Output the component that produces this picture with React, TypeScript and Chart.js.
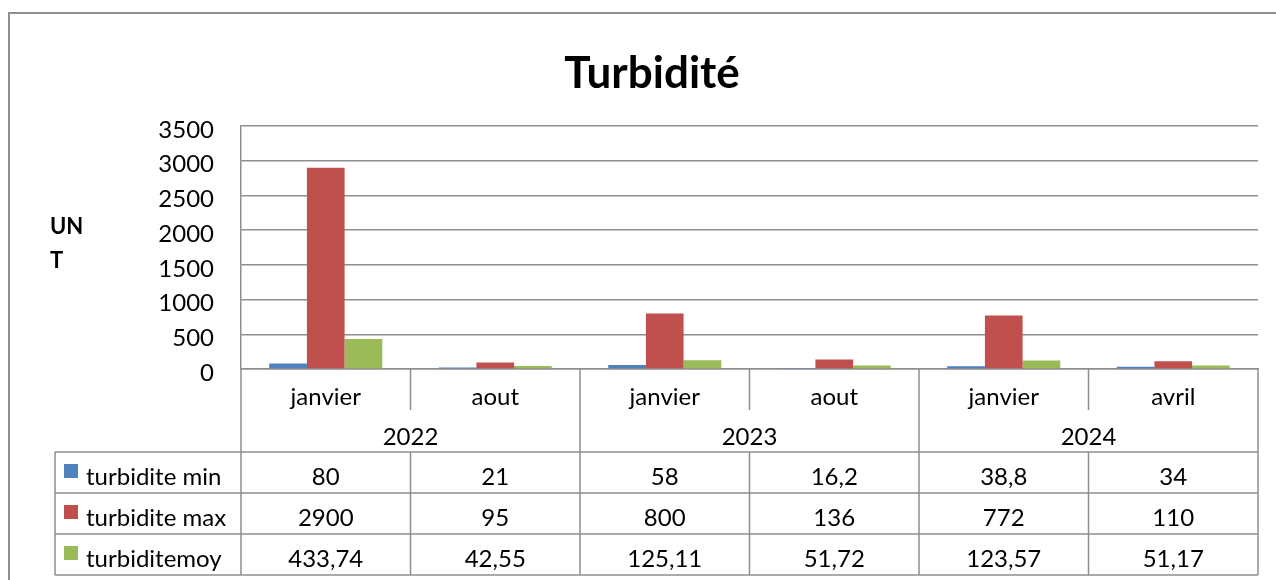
import React, { useEffect, useRef } from "react";
import { Chart, registerables } from "chart.js";

Chart.register(...registerables);

const chartTitle = "Turbidité";
const yAxisTitle = ["UN", "T"];
const years = ["2022", "2023", "2024"];
const months = ["janvier", "aout", "janvier", "aout", "janvier", "avril"];
const monthYearIndex = [0, 0, 1, 1, 2, 2];
const seriesNames = ["turbidite min", "turbidite max", "turbiditemoy"];
const turbMin = [80, 21, 58, 16.2, 38.8, 34];
const turbMax = [2900, 95, 800, 136, 772, 110];
const turbMoy = [433.74, 42.55, 125.11, 51.72, 123.57, 51.17];
const seriesColors = ["#4F81BD", "#C0504D", "#9BBB59"];
const yMin = 0;
const yMax = 3500;
const yStep = 500;

const FONT = "Lato, 'Open Sans', sans-serif";
const TXT = 24;
const LINE = "#8e8e8e";

const fmt = (v: number) => String(v).replace(".", ",");

const decorPlugin = {
  id: "decor",
  beforeDraw(chart: any) {
    const ctx = chart.ctx;
    ctx.save();
    ctx.fillStyle = "#ffffff";
    ctx.fillRect(0, 0, chart.width, chart.height);
    ctx.strokeStyle = LINE;
    ctx.lineWidth = 2;
    ctx.strokeRect(9, 13, chart.width + 40, chart.height + 40);
    ctx.restore();
  },
  afterDraw(chart: any) {
    const ctx = chart.ctx;
    const area = chart.chartArea;
    const xs = chart.scales.x;
    const n = months.length;
    const colW = (area.right - area.left) / n;
    const edge = (i: number) => area.left + i * colW;
    const bottom = area.bottom;
    const tableTop = bottom + 83;
    const rowH = 41;
    const tableLeft = 55;

    ctx.save();
    // title
    ctx.fillStyle = "#000";
    ctx.font = `bold 44px ${FONT}`;
    ctx.textAlign = "center";
    ctx.textBaseline = "alphabetic";
    ctx.fillText(chartTitle, 652, 88);

    // y axis title
    ctx.font = `bold 22px ${FONT}`;
    ctx.textAlign = "left";
    yAxisTitle.forEach((t, i) => ctx.fillText(t, 50, 234 + i * 34));

    // table lines
    ctx.strokeStyle = LINE;
    ctx.lineWidth = 1.5;
    const line = (x1: number, y1: number, x2: number, y2: number) => {
      ctx.beginPath();
      ctx.moveTo(x1, y1);
      ctx.lineTo(x2, y2);
      ctx.stroke();
    };
    for (let i = 0; i <= n; i++) {
      const yearBoundary = i === 0 || i === n || monthYearIndex[i] !== monthYearIndex[i - 1];
      line(edge(i), bottom, edge(i), yearBoundary ? tableTop : bottom + 41);
      line(edge(i), tableTop, edge(i), tableTop + rowH * seriesNames.length);
    }
    line(tableLeft, tableTop, tableLeft, tableTop + rowH * seriesNames.length);
    for (let r = 0; r <= seriesNames.length; r++) {
      line(tableLeft, tableTop + r * rowH, area.right, tableTop + r * rowH);
    }

    // month labels
    ctx.fillStyle = "#000";
    ctx.font = `${TXT}px ${FONT}`;
    ctx.textAlign = "center";
    months.forEach((m, i) => ctx.fillText(m, xs.getPixelForValue(i), bottom + 36));
    // year labels
    years.forEach((y, yi) => {
      const idx = monthYearIndex.map((v, i) => (v === yi ? i : -1)).filter((i) => i >= 0);
      const cx = (xs.getPixelForValue(idx[0]) + xs.getPixelForValue(idx[idx.length - 1])) / 2;
      ctx.fillText(y, cx, bottom + 76);
    });

    // data rows
    chart.data.datasets.forEach((ds: any, r: number) => {
      const top = tableTop + r * rowH;
      ctx.fillStyle = seriesColors[r];
      ctx.fillRect(64, top + 12, 14, 14);
      ctx.fillStyle = "#000";
      ctx.textAlign = "left";
      ctx.fillText(seriesNames[r], 86, top + 33);
      ctx.textAlign = "center";
      ds.data.forEach((v: number, i: number) => ctx.fillText(fmt(v), xs.getPixelForValue(i), top + 33));
    });
    ctx.restore();
  },
};

export default function App() {
  const ref = useRef<HTMLCanvasElement>(null);
  useEffect(() => {
    document.body.style.margin = "0";
    const canvas = ref.current!;
    const chart = new Chart(canvas, {
      type: "bar",
      data: {
        labels: months,
        datasets: [turbMin, turbMax, turbMoy].map((d, i) => ({
          label: seriesNames[i],
          data: d,
          backgroundColor: seriesColors[i],
          borderWidth: 0,
          categoryPercentage: 0.667,
          barPercentage: 1,
        })),
      },
      options: {
        animation: false,
        responsive: false,
        devicePixelRatio: 1,
        layout: { padding: { top: 126, left: 0, right: 18, bottom: 0 } },
        plugins: { legend: { display: false }, title: { display: false }, tooltip: { enabled: false } },
        scales: {
          x: {
            ticks: { display: false },
            grid: { display: false },
            border: { display: true, color: LINE, width: 1.5 },
            afterFit: (s: any) => {
              s.height = 211;
            },
          },
          y: {
            min: yMin,
            max: yMax,
            ticks: {
              stepSize: yStep,
              padding: 27,
              labelOffset: 4,
              color: "#000",
              font: { family: FONT, size: TXT },
              callback: (v: any) => String(v),
            },
            grid: { color: LINE, lineWidth: 1.5, drawTicks: false },
            border: { display: true, color: LINE, width: 1.5 },
            afterFit: (s: any) => {
              s.width = 241;
            },
          },
        },
      },
      plugins: [decorPlugin],
    });
    return () => chart.destroy();
  }, []);
  return (
    <div style={{ width: 1276, height: 580 }}>
      <canvas ref={ref} width={1276} height={580} />
    </div>
  );
}
